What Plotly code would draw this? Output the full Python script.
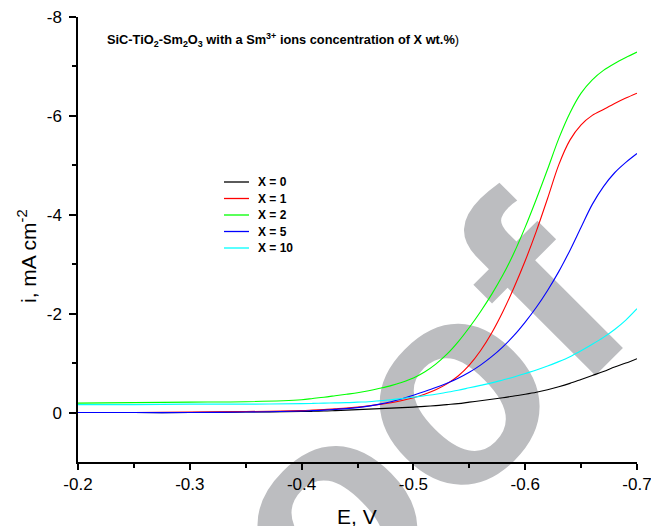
import base64
import plotly.graph_objects as go

# ---------------- data ----------------
E = [-0.20, -0.25, -0.30, -0.35,
     -0.40, -0.41, -0.42, -0.43, -0.44, -0.45, -0.46, -0.47, -0.48, -0.49,
     -0.50, -0.51, -0.52, -0.53, -0.54, -0.55, -0.56, -0.57, -0.58, -0.59,
     -0.60, -0.61, -0.62, -0.63, -0.64, -0.65, -0.66, -0.67, -0.68, -0.69, -0.70]

i_x0 = [0.0, 0.0, 0.0, -0.01,
        -0.02, -0.025, -0.03, -0.04, -0.05, -0.06, -0.07, -0.08, -0.09, -0.10,
        -0.11, -0.125, -0.14, -0.16, -0.18, -0.21, -0.24, -0.27, -0.30, -0.335,
        -0.37, -0.41, -0.46, -0.52, -0.59, -0.67, -0.75, -0.83, -0.92, -1.00, -1.09]
i_x1 = [0.0, 0.0, -0.01, -0.02,
        -0.04, -0.05, -0.06, -0.075, -0.09, -0.11, -0.135, -0.165, -0.20, -0.245,
        -0.30, -0.37, -0.46, -0.58, -0.74, -0.96, -1.25, -1.61, -2.04, -2.53,
        -3.07, -3.67, -4.33, -5.01, -5.51, -5.82, -6.01, -6.13, -6.25, -6.36, -6.46]
i_x2 = [-0.19, -0.20, -0.21, -0.22,
        -0.26, -0.285, -0.31, -0.34, -0.37, -0.40, -0.44, -0.49, -0.545, -0.615,
        -0.70, -0.82, -0.98, -1.18, -1.43, -1.72, -2.04, -2.39, -2.78, -3.23,
        -3.75, -4.32, -4.92, -5.54, -6.06, -6.46, -6.73, -6.92, -7.06, -7.18, -7.29]
i_x5 = [0.0, 0.0, 0.0, -0.01,
        -0.03, -0.04, -0.05, -0.065, -0.08, -0.10, -0.13, -0.17, -0.22, -0.28,
        -0.35, -0.425, -0.505, -0.595, -0.695, -0.815, -0.96, -1.13, -1.33, -1.56,
        -1.83, -2.13, -2.47, -2.85, -3.28, -3.75, -4.21, -4.57, -4.85, -5.06, -5.24]
i_x10 = [-0.16, -0.16, -0.17, -0.17,
         -0.18, -0.185, -0.19, -0.195, -0.20, -0.21, -0.22, -0.24, -0.26, -0.285,
         -0.31, -0.34, -0.37, -0.41, -0.45, -0.50, -0.55, -0.60, -0.66, -0.72,
         -0.79, -0.86, -0.94, -1.03, -1.13, -1.25, -1.38, -1.52, -1.68, -1.87, -2.10]

series_names = ["X = 0", "X = 1", "X = 2", "X = 5", "X = 10"]
series_values = [i_x0, i_x1, i_x2, i_x5, i_x10]
series_colors = ["#000000", "#ff0000", "#00ff00", "#0000ff", "#00ffff"]

x_ticks = [-0.2, -0.3, -0.4, -0.5, -0.6, -0.7]
x_ticklabels = ["-0.2", "-0.3", "-0.4", "-0.5", "-0.6", "-0.7"]
x_minor = [-0.25, -0.35, -0.45, -0.55, -0.65]
y_ticks = [-8, -6, -4, -2, 0]
y_ticklabels = ["-8", "-6", "-4", "-2", "0"]
y_minor = [-7, -5, -3, -1]

title_text = ("<b>SiC-TiO<sub>2</sub>-Sm<sub>2</sub>O<sub>3</sub> with a Sm<sup>3+</sup> "
              "ions concentration of X wt.%</b>)")
watermark = "Proof"

FONT = "Liberation Sans, Arial, sans-serif"
W, H = 651, 526
ML, MR, MT, MB = 78, 14, 17, 64
PW, PH = W - ML - MR, H - MT - MB


def px_x(px):
    return (px - ML) / PW


def px_y(py):
    return (H - MB - py) / PH


fig = go.Figure()
for name, vals, col in zip(series_names, series_values, series_colors):
    fig.add_trace(go.Scatter(x=E, y=vals, mode="lines", name=name, showlegend=False,
                             line=dict(color=col, width=1.1, shape="spline", smoothing=0.9)))

# watermark (svg image drawn below the traces), letters placed along a -45 deg baseline
centers = [-427, -276.5, -134, 38.9, 176]
tspans = "".join(f'<tspan x="{c}" y="686.6">{ch}</tspan>' for c, ch in zip(centers, watermark))
svg = (f'<svg xmlns="http://www.w3.org/2000/svg" width="{W}" height="{H}" viewBox="0 0 {W} {H}">'
       f'<text transform="rotate(-45)" font-family="Liberation Sans, Arial" font-weight="bold" '
       f'font-size="285" fill="#bcbdc0" text-anchor="middle">{tspans}</text></svg>')
src = "data:image/svg+xml;base64," + base64.b64encode(svg.encode()).decode()
fig.add_layout_image(dict(source=src, xref="paper", yref="paper",
                          x=-ML / PW, y=1 + MT / PH, sizex=W / PW, sizey=H / PH,
                          xanchor="left", yanchor="top", sizing="stretch", layer="below"))

axis_common = dict(showline=True, linecolor="black", linewidth=1.5, ticks="outside",
                   tickwidth=1.5, tickcolor="black", showgrid=False, zeroline=False,
                   mirror=False, automargin=False, ticklabeloverflow="allow",
                   tickfont=dict(family=FONT, size=17, color="black"))

fig.update_xaxes(range=[-0.2, -0.7], tickmode="array", tickvals=x_ticks, ticktext=x_ticklabels,
                 ticklen=6, minor=dict(tickvals=x_minor, ticklen=4, tickwidth=1.5,
                                       tickcolor="black", ticks="outside"),
                 **axis_common)
fig.update_yaxes(range=[1, -8], tickmode="array", tickvals=y_ticks, ticktext=y_ticklabels,
                 ticklen=7, ticklabelstandoff=4,
                 minor=dict(tickvals=y_minor, ticklen=4, tickwidth=1.5,
                            tickcolor="black", ticks="outside"),
                 **axis_common)

# legend keys drawn by hand (tighter row spacing than plotly's legend allows)
shapes = []
annotations = []
row_y = [182, 198.5, 215, 231.5, 248]
for name, col, ry in zip(series_names, series_colors, row_y):
    shapes.append(dict(type="line", xref="paper", yref="paper", x0=px_x(224), x1=px_x(249),
                       y0=px_y(ry), y1=px_y(ry), line=dict(color=col, width=1.3)))
    annotations.append(dict(text="<b>" + name + "</b>", xref="paper", yref="paper",
                            x=px_x(256), y=px_y(ry), xanchor="left", yanchor="middle",
                            showarrow=False, font=dict(family=FONT, size=12, color="black")))

annotations += [
    dict(text=title_text, xref="paper", yref="paper", x=px_x(105), y=px_y(40),
         xanchor="left", yanchor="middle", showarrow=False,
         font=dict(family=FONT, size=12.8, color="black")),
    dict(text="E, V", xref="paper", yref="paper", x=px_x(357), y=px_y(516),
         xanchor="center", yanchor="middle", showarrow=False,
         font=dict(family=FONT, size=21, color="black")),
    dict(text="i, mA cm<sup>-2</sup>", xref="paper", yref="paper", x=px_x(27),
         y=px_y(256), xanchor="center", yanchor="middle", textangle=-90,
         showarrow=False, font=dict(family=FONT, size=21, color="black")),
]

fig.update_layout(
    width=W, height=H, autosize=False,
    margin=dict(l=ML, r=MR, t=MT, b=MB, pad=0, autoexpand=False),
    paper_bgcolor="white", plot_bgcolor="rgba(0,0,0,0)",
    showlegend=False,
    shapes=shapes,
    annotations=annotations,
)

fig.write_html("out.html")
